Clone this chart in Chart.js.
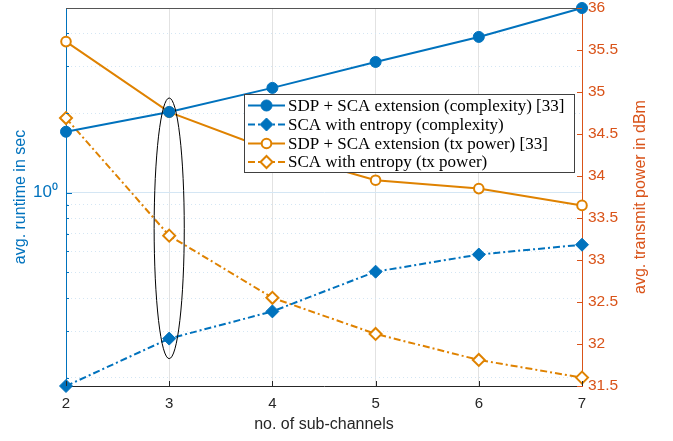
<!DOCTYPE html>
<html><head><meta charset="utf-8">
<script src="https://cdn.jsdelivr.net/npm/chart.js@4"></script>
<style>html,body{margin:0;padding:0;background:#fff}#wrap{width:673px;height:441px;position:relative}</style>
</head><body><div id="wrap"><canvas id="c" width="673" height="441"></canvas></div>
<script>
const subChannels = [2, 3, 4, 5, 6, 7];
const runtimeSdpSca = [1.70, 2.02, 2.49, 3.12, 3.88, 4.99];
const runtimeScaEntropy = [0.186, 0.281, 0.356, 0.503, 0.584, 0.636];
const powerSdpSca = [35.60, 34.76, 34.30, 33.95, 33.85, 33.65];
const powerScaEntropy = [34.69, 33.29, 32.55, 32.12, 31.81, 31.60];
const leftTicks = [0.2, 0.3, 0.4, 0.5, 0.6, 0.7, 0.8, 0.9, 1, 2, 3, 4];
const leftTickLabels = { 1: '10⁰' };
const rightTicks = [31.5, 32, 32.5, 33, 33.5, 34, 34.5, 35, 35.5, 36];
const seriesNames = [
  'SDP + SCA extension (complexity) [33]',
  'SCA with entropy (complexity)',
  'SDP + SCA extension (tx power) [33]',
  'SCA with entropy (tx power)'
];
const xTitle = 'no. of sub-channels';
const leftTitle = 'avg. runtime in sec';
const rightTitle = 'avg. transmit power in dBm';
const highlight = { x: 3, halfWidth: 0.146, top: 2.28, bottom: 0.236 };

const BLUE = '#0072BD', ORANGE = '#DF8200', RED = '#D95319', DARK = '#262626';
const DASHDOT = [7, 3, 2, 3];
const pts = (ys) => subChannels.map((x, i) => ({ x, y: ys[i] }));

const allRuntime = runtimeSdpSca.concat(runtimeScaEntropy);

const overlay = {
  id: 'overlay',
  afterDatasetsDraw(chart) {
    const { ctx, chartArea: a, scales } = chart;
    const xs = scales.x, yl = scales.y, yr = scales.y1;
    ctx.save();
    // top box line
    ctx.strokeStyle = '#555'; ctx.lineWidth = 1.2;
    ctx.beginPath(); ctx.moveTo(a.left, a.top + 0.5); ctx.lineTo(a.right, a.top + 0.5); ctx.stroke();
    // inward ticks
    ctx.lineWidth = 1;
    ctx.strokeStyle = DARK;
    subChannels.forEach(v => { const p = Math.round(xs.getPixelForValue(v)) + 0.5; ctx.beginPath(); ctx.moveTo(p, a.bottom); ctx.lineTo(p, a.bottom - 5); ctx.stroke(); });
    ctx.strokeStyle = BLUE;
    leftTicks.forEach(v => { const p = Math.round(yl.getPixelForValue(v)) + 0.5; ctx.beginPath(); ctx.moveTo(a.left, p); ctx.lineTo(a.left + (v === 1 ? 6 : 3), p); ctx.stroke(); });
    ctx.strokeStyle = RED;
    rightTicks.forEach(v => { const p = Math.round(yr.getPixelForValue(v)) + 0.5; ctx.beginPath(); ctx.moveTo(a.right, p); ctx.lineTo(a.right - 5, p); ctx.stroke(); });
    // ellipse
    const cx = xs.getPixelForValue(highlight.x);
    const rx = xs.getPixelForValue(highlight.x + highlight.halfWidth) - cx;
    const yt = yl.getPixelForValue(highlight.top), yb = yl.getPixelForValue(highlight.bottom);
    ctx.strokeStyle = '#000'; ctx.lineWidth = 1;
    ctx.beginPath(); ctx.ellipse(cx, (yt + yb) / 2, rx, (yb - yt) / 2, 0, 0, Math.PI * 2); ctx.stroke();
    // legend
    const lx = 244.5, ly = 94.5, lw = 330, lh = 78;
    ctx.fillStyle = '#fff'; ctx.fillRect(lx, ly, lw, lh);
    ctx.strokeStyle = '#404040'; ctx.lineWidth = 1; ctx.strokeRect(lx, ly, lw, lh);
    const rows = [105.5, 124.5, 143.5, 162];
    ctx.font = '17px "Liberation Serif"';
    ctx.textBaseline = 'middle'; ctx.textAlign = 'left';
    chart.data.datasets.forEach((ds, i) => {
      const y = rows[i];
      ctx.strokeStyle = ds.borderColor; ctx.lineWidth = 2;
      ctx.setLineDash(ds.borderDash || []);
      ctx.beginPath(); ctx.moveTo(248, y); ctx.lineTo(285, y); ctx.stroke();
      ctx.setLineDash([]);
      ctx.fillStyle = ds.pointBackgroundColor; ctx.lineWidth = ds.pointBorderWidth;
      ctx.strokeStyle = ds.borderColor;
      Chart.helpers.drawPoint(ctx, { pointStyle: ds.pointStyle, radius: ds.pointRadius, rotation: 0, borderWidth: ds.pointBorderWidth }, 266.5, y);
      ctx.fillStyle = '#000';
      ctx.fillText(seriesNames[i], 288, y + 1);
    });
    // titles
    ctx.font = '16px "Liberation Sans"';
    ctx.textAlign = 'center'; ctx.textBaseline = 'middle';
    ctx.fillStyle = DARK;
    ctx.fillText(xTitle, (a.left + a.right) / 2, 425);
    ctx.fillStyle = BLUE;
    ctx.save(); ctx.translate(21, (a.top + a.bottom) / 2); ctx.rotate(-Math.PI / 2); ctx.fillText(leftTitle, 0, 0); ctx.restore();
    ctx.fillStyle = RED;
    ctx.save(); ctx.translate(641, (a.top + a.bottom) / 2); ctx.rotate(-Math.PI / 2); ctx.fillText(rightTitle, 0, 0); ctx.restore();
    ctx.restore();
  }
};

new Chart(document.getElementById('c'), {
  type: 'line',
  data: {
    datasets: [
      { data: pts(runtimeSdpSca), yAxisID: 'y', borderColor: BLUE, backgroundColor: BLUE, pointBackgroundColor: BLUE, pointBorderColor: BLUE, pointStyle: 'circle', pointRadius: 5.5, pointBorderWidth: 1, borderWidth: 2 },
      { data: pts(runtimeScaEntropy), yAxisID: 'y', borderColor: BLUE, backgroundColor: BLUE, pointBackgroundColor: BLUE, pointBorderColor: BLUE, pointStyle: 'rectRot', pointRadius: 6.5, pointBorderWidth: 1, borderWidth: 2, borderDash: DASHDOT },
      { data: pts(powerSdpSca), yAxisID: 'y1', borderColor: ORANGE, backgroundColor: '#fff', pointBackgroundColor: '#fff', pointBorderColor: ORANGE, pointStyle: 'circle', pointRadius: 4.8, pointBorderWidth: 2, borderWidth: 2 },
      { data: pts(powerScaEntropy), yAxisID: 'y1', borderColor: ORANGE, backgroundColor: '#fff', pointBackgroundColor: '#fff', pointBorderColor: ORANGE, pointStyle: 'rectRot', pointRadius: 6, pointBorderWidth: 2, borderWidth: 2, borderDash: DASHDOT }
    ]
  },
  options: {
    responsive: false, animation: false,
    layout: { padding: { top: 7, left: 0, right: 0, bottom: 0 } },
    plugins: { legend: { display: false }, tooltip: { enabled: false } },
    elements: { line: { tension: 0 } },
    datasets: { line: { clip: false } },
    scales: {
      x: {
        type: 'linear', min: 2, max: 7,
        afterBuildTicks: (s) => { s.ticks = subChannels.map(v => ({ value: v })); },
        afterFit: (s) => { s.height = 55; s.paddingLeft = 0; s.paddingRight = 0; },
        ticks: { color: DARK, font: { family: 'Liberation Sans', size: 15 }, padding: 9, maxRotation: 0 },
        grid: { color: '#E2E2E2', drawTicks: false },
        border: { color: DARK }
      },
      y: {
        type: 'logarithmic', position: 'left',
        min: Math.min(...allRuntime), max: Math.max(...allRuntime),
        afterBuildTicks: (s) => { s.ticks = leftTicks.map(v => ({ value: v, major: v === 1 })); },
        afterFit: (s) => { s.width = 66; s.paddingTop = 0; s.paddingBottom = 0; },
        ticks: { color: BLUE, font: { family: 'Liberation Sans', size: 17 }, padding: 8, callback: (v) => leftTickLabels[v] || '', autoSkip: false },
        grid: { color: '#D4E6F4', drawTicks: false },
        border: { color: BLUE, dash: (c) => (c.type === 'tick' && c.tick && c.tick.value !== 1) ? [1, 3] : [] }
      },
      y1: {
        type: 'linear', position: 'right', min: 31.5, max: 36,
        afterBuildTicks: (s) => { s.ticks = rightTicks.map(v => ({ value: v })); },
        afterFit: (s) => { s.width = 91; s.paddingTop = 0; s.paddingBottom = 0; },
        ticks: { color: RED, font: { family: 'Liberation Sans', size: 15.5 }, padding: 6, autoSkip: false, callback: (v) => String(v) },
        grid: { drawOnChartArea: false, drawTicks: false },
        border: { color: RED }
      }
    }
  },
  plugins: [overlay]
});
</script>
</body></html>
